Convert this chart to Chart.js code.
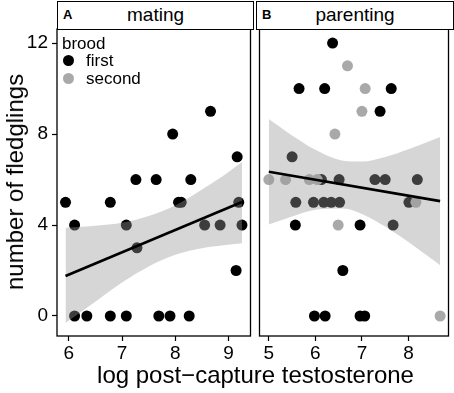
<!DOCTYPE html>
<html lang="en">
<head>
<meta charset="UTF-8">
<title>fledglings vs testosterone</title>
<script src="https://cdn.jsdelivr.net/npm/chart.js"></script>
<style>
    body {
        margin: 0;
        background: #fff;
        font-family: "Liberation Sans", Arial, sans-serif;
        color: #000;
    }
    #wrap {
        position: relative;
        width: 454px;
        height: 393px;
        overflow: hidden;
    }
    canvas {
        position: absolute;
        top: 0;
    }
    .strip {
        position: absolute;
        top: 1px;
        height: 29px;
        box-sizing: border-box;
        border: 1.3px solid #000;
        background: #fff;
    }
    .strip .name {
        position: absolute;
        left: 0;
        right: 0;
        top: 3px;
        text-align: center;
        font-size: 19px;
        line-height: 19px;
    }
    .strip .tag {
        position: absolute;
        left: 5px;
        top: 6px;
        font-size: 13px;
        line-height: 13px;
        font-weight: bold;
    }
    .txt {
        position: absolute;
        white-space: nowrap;
    }
    .dot {
        position: absolute;
        width: 11px;
        height: 11px;
        border-radius: 50%;
    }
</style>
</head>
<body>
<div id="wrap">
    <canvas id="matingChart" width="256" height="393" style="left:0px"></canvas>
    <canvas id="parentingChart" width="200" height="393" style="left:254px"></canvas>

    <div class="strip" style="left:57px; width:197px"><span class="tag">A</span><span class="name">mating</span></div>
    <div class="strip" style="left:256px; width:198px"><span class="tag">B</span><span class="name">parenting</span></div>

    <div class="txt" style="left:62px; top:35px; font-size:17px; line-height:17px">brood</div>
    <div class="dot" style="left:63px; top:55px; background:#000"></div>
    <div class="txt" style="left:86px; top:52px; font-size:17px; line-height:17px">first</div>
    <div class="dot" style="left:63px; top:73px; background:#a9a9a9"></div>
    <div class="txt" style="left:86px; top:70px; font-size:17px; line-height:17px">second</div>

    <div class="txt" style="left:0; width:454px; padding-left:57px; box-sizing:border-box; top:363px; text-align:center; font-size:24px; line-height:24px">log post&#8722;capture testosterone</div>
    <div class="txt" style="left:15px; top:182px; font-size:24px; line-height:24px; transform:translate(-50%,-50%) rotate(-90deg)">number of fledglings</div>
</div>

<script>
// values

var yTicks = [0, 4, 8, 12];
var matingTicks = [6, 7, 8, 9];
var parentingTicks = [5, 6, 7, 8];

// mating panel, all first brood
var matingFirstX = [5.94, 6.11, 6.78, 7.08, 7.26, 7.28, 7.64, 7.95, 8.06, 8.11, 8.29, 8.55, 8.66, 8.84, 9.14, 9.16, 9.19, 9.25,
                    6.11, 6.34, 6.78, 7.08, 7.69, 7.90, 8.26];
var matingFirstY = [5, 4, 5, 4, 6, 3, 6, 8, 5, 5, 6, 4, 9, 4, 2, 7, 5, 4,
                    0, 0, 0, 0, 0, 0, 0];

// parenting panel
var parentingFirstX = [6.37, 5.65, 6.20, 7.63, 7.39, 5.50, 6.13, 6.51, 7.28, 7.50, 8.19, 5.58, 5.96, 6.18, 6.34, 6.52, 8.01,
                       5.57, 6.96, 7.67, 6.59, 5.98, 6.21, 6.96, 7.06];
var parentingFirstY = [12, 10, 10, 10, 9, 7, 6, 6, 6, 6, 6, 5, 5, 5, 5, 5, 5,
                       4, 4, 4, 2, 0, 0, 0, 0];
var parentingSecondX = [6.69, 7.07, 7.00, 6.42, 5.00, 5.36, 5.87, 6.04, 8.16, 6.49, 8.68];
var parentingSecondY = [11, 10, 9, 8, 6, 6, 6, 6, 5, 4, 0];

// fitted lines and confidence bands
var matingFitX = [5.94, 9.25];
var matingFitY = [1.76, 5.01];
var matingBandX = [5.94, 6.4, 7.0, 7.5, 8.0, 8.5, 8.9, 9.25];
var matingBandUpper = [3.88, 3.95, 4.10, 4.40, 4.86, 5.56, 6.17, 6.77];
var matingBandLower = [-0.31, 0.46, 1.47, 2.18, 2.69, 2.98, 3.11, 3.20];

var parentingFitX = [5.0, 8.68];
var parentingFitY = [6.34, 5.05];
var parentingBandX = [5.0, 5.5, 6.0, 6.6, 7.0, 7.5, 8.0, 8.68];
var parentingBandUpper = [8.66, 7.94, 7.31, 6.83, 6.79, 6.99, 7.33, 7.87];
var parentingBandLower = [4.02, 4.38, 4.67, 4.73, 4.49, 3.93, 3.25, 2.23];

function toXY(xs, ys) {
    return xs.map(function (x, i) { return { x: x, y: ys[i] }; });
}

var panelBorder = {
    id: 'panelBorder',
    afterDraw: function (chart) {
        var a = chart.chartArea;
        var c = chart.ctx;
        c.save();
        c.strokeStyle = '#000';
        c.lineWidth = 1.3;
        c.strokeRect(a.left, a.top, a.right - a.left, a.bottom - a.top);
        c.restore();
    }
};

function makePanel(id, p) {
    var datasets = [];
    datasets.push({
        data: toXY(p.fitX, p.fitY), showLine: true, borderColor: '#000', borderWidth: 2.6,
        pointRadius: 0, fill: false, order: 0
    });
    datasets.push({
        data: toXY(p.bandX, p.bandUpper), showLine: true, borderWidth: 0, borderColor: 'rgba(0,0,0,0)',
        backgroundColor: 'rgba(153,153,153,0.4)', pointRadius: 0, fill: '+1',
        cubicInterpolationMode: 'monotone', order: 1
    });
    datasets.push({
        data: toXY(p.bandX, p.bandLower), showLine: true, borderWidth: 0, borderColor: 'rgba(0,0,0,0)',
        pointRadius: 0, fill: false, cubicInterpolationMode: 'monotone', order: 2
    });
    if (p.secondX) {
        datasets.push({
            data: toXY(p.secondX, p.secondY), backgroundColor: '#a9a9a9', borderWidth: 0,
            pointRadius: 5.5, order: 3
        });
    }
    datasets.push({
        data: toXY(p.firstX, p.firstY), backgroundColor: '#000', borderWidth: 0,
        pointRadius: 5.5, order: 4
    });

    var tickFont = { family: '"Liberation Sans", Arial, sans-serif', size: 19 };

    return new Chart(document.getElementById(id).getContext('2d'), {
        type: 'scatter',
        data: { datasets: datasets },
        plugins: [panelBorder],
        options: {
            responsive: false,
            devicePixelRatio: 1,
            animation: false,
            events: [],
            layout: { padding: p.padding },
            plugins: { legend: { display: false }, tooltip: { enabled: false } },
            scales: {
                x: {
                    type: 'linear',
                    min: p.xMin,
                    max: p.xMax,
                    afterBuildTicks: function (s) { s.ticks = p.xTicks.map(function (v) { return { value: v }; }); },
                    afterFit: function (s) { s.height = 57; },
                    grid: { display: true, drawOnChartArea: false, drawTicks: true, tickLength: 5, tickColor: '#000', tickWidth: 1.2 },
                    border: { display: false },
                    ticks: { color: '#000', font: tickFont, padding: 1, maxRotation: 0, autoSkip: false }
                },
                y: {
                    display: p.showY,
                    min: -0.88,
                    max: 12.62,
                    afterBuildTicks: function (s) { s.ticks = yTicks.map(function (v) { return { value: v }; }); },
                    afterFit: function (s) { s.width = p.showY ? 57 : 0; },
                    grid: { display: true, drawOnChartArea: false, drawTicks: true, tickLength: 5, tickColor: '#000', tickWidth: 1.2 },
                    border: { display: false },
                    ticks: { color: '#000', font: tickFont, padding: 4 }
                }
            }
        }
    });
}

makePanel('matingChart', {
    firstX: matingFirstX, firstY: matingFirstY,
    fitX: matingFitX, fitY: matingFitY,
    bandX: matingBandX, bandUpper: matingBandUpper, bandLower: matingBandLower,
    xMin: 5.78, xMax: 9.41, xTicks: matingTicks, showY: true,
    padding: { left: 0, right: 3, top: 29, bottom: 0 }
});

makePanel('parentingChart', {
    firstX: parentingFirstX, firstY: parentingFirstY,
    secondX: parentingSecondX, secondY: parentingSecondY,
    fitX: parentingFitX, fitY: parentingFitY,
    bandX: parentingBandX, bandUpper: parentingBandUpper, bandLower: parentingBandLower,
    xMin: 4.8, xMax: 8.86, xTicks: parentingTicks, showY: false,
    padding: { left: 3, right: 1, top: 29, bottom: 0 }
});
</script>
</body>
</html>
